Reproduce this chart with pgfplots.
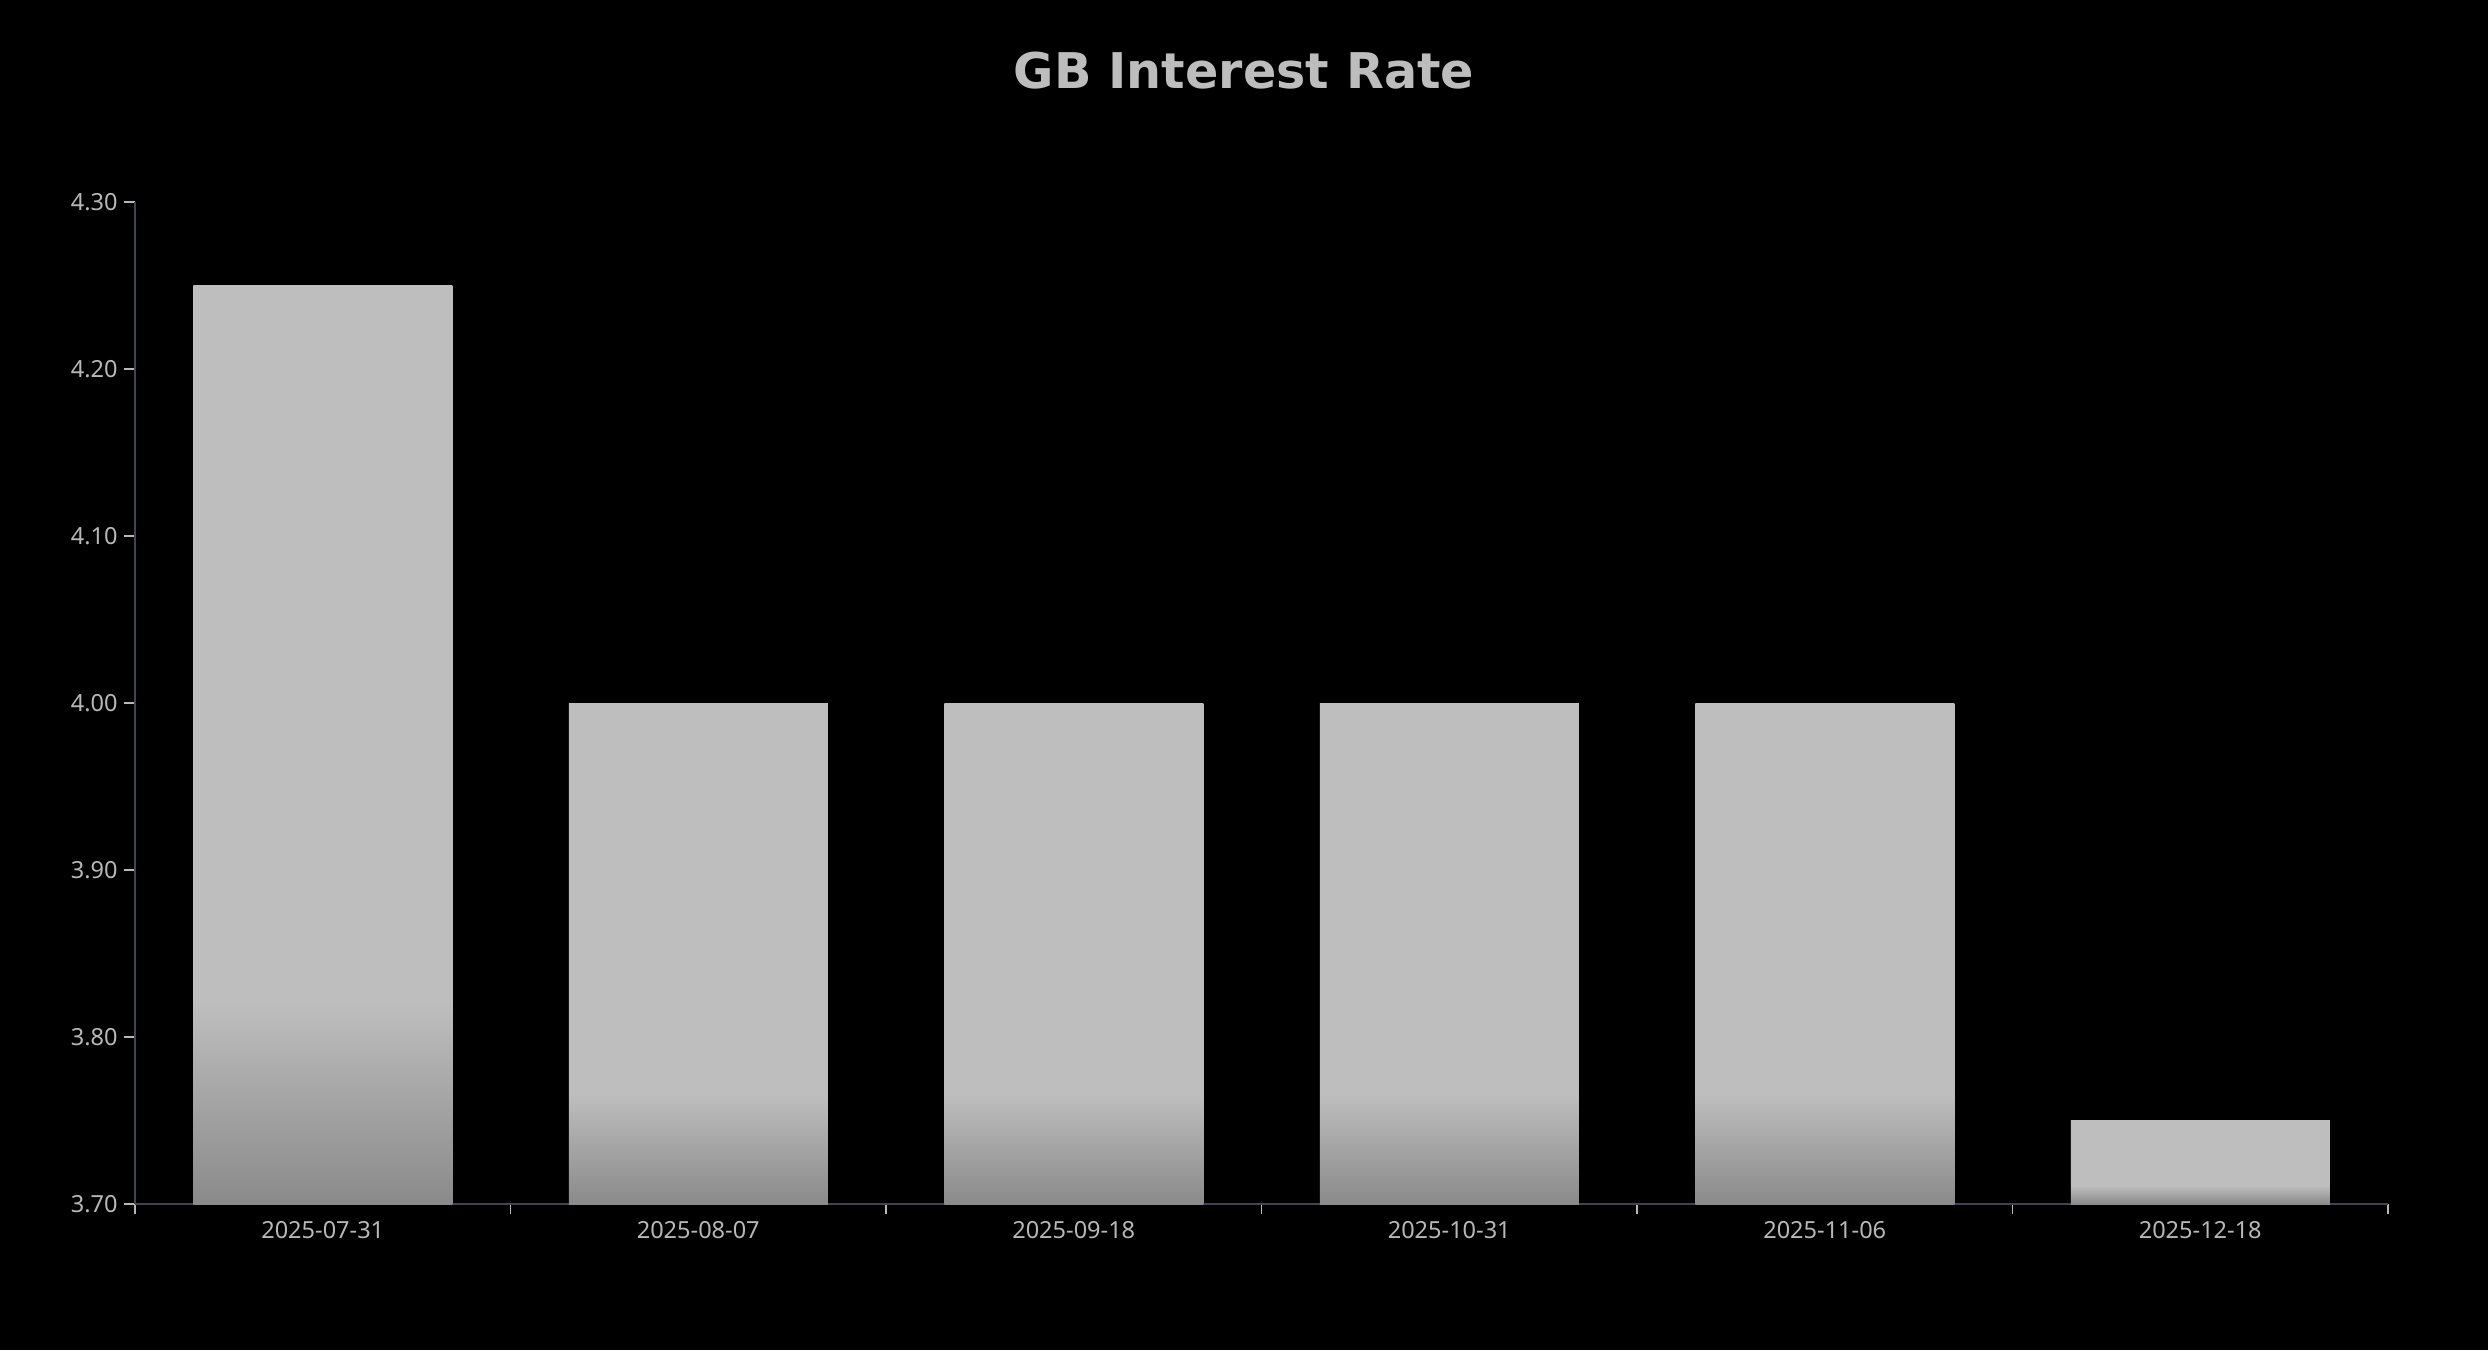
\documentclass[border=0pt]{standalone}
\usepackage{fontspec}
\setmainfont{Noto Sans}
\newfontfamily\titlefont{DejaVu Sans}
\usepackage{pgfplots}
\pgfplotsset{compat=1.18}

\definecolor{bargray}{HTML}{BEBEBE}
\definecolor{bardark}{HTML}{8A8A8A}
\definecolor{axisline}{HTML}{3D4553}
\definecolor{ticktext}{HTML}{B8B8B8}
\definecolor{titlegray}{HTML}{BDBDBD}

% darker band at the foot of every bar (bottom ~22% of its height)
\pgfdeclareverticalshading{barshade}{100bp}{color(0bp)=(bardark); color(25bp)=(bardark); color(36bp)=(bargray); color(100bp)=(bargray)}

\pgfplotsset{gbbar/.style={ybar, bar width=2.59cm, bar shift=0pt, draw=none, mark=none, shading=barshade}}

\begin{document}
\begin{tikzpicture}
\fill[black] (0,0) rectangle (24.88,13.5);
\path[use as bounding box] (0,0) rectangle (24.88,13.5);
\node[anchor=base, text=titlegray, inner sep=0pt] at (12.44,12.61)
  {\titlefont\fontsize{14}{16}\selectfont\bfseries GB Interest Rate};
\begin{axis}[
    at={(1.35cm,1.46cm)}, anchor=south west,
    scale only axis,
    width=22.53cm, height=10.02cm,
    xmin=-0.5, xmax=5.5,
    ymin=3.7, ymax=4.3,
    y coord trafo/.code={\pgfmathparse{#1-3.7}},
    axis lines=left,
    axis line style={-, draw=axisline, line width=0.75pt},
    tick align=outside,
    xtick={0,1,2,3,4,5},
    xticklabels={2025-07-31,2025-08-07,2025-09-18,2025-10-31,2025-11-06,2025-12-18},
    major x tick style={draw=none},
    minor xtick={-0.5,0.5,1.5,2.5,3.5,4.5,5.5},
    minor x tick style={draw=ticktext, line width=0.45pt},
    minor tick length=1.0mm,
    ytick={3.7,3.8,3.9,4.0,4.1,4.2,4.3},
    yticklabels={3.70,3.80,3.90,4.00,4.10,4.20,4.30},
    ytick style={draw=ticktext, line width=0.45pt},
    major tick length=1.1mm,
    tick label style={text=ticktext, font=\fontsize{6.7}{8}\selectfont},
    x tick label style={yshift=0.6mm},
    y tick label style={xshift=0.6mm},
    clip=false,
]
% one plot per bar so each bar gets its own shading
\addplot[gbbar] coordinates {(0, 4.25)};
\addplot[gbbar] coordinates {(1, 4.00)};
\addplot[gbbar] coordinates {(2, 4.00)};
\addplot[gbbar] coordinates {(3, 4.00)};
\addplot[gbbar] coordinates {(4, 4.00)};
\addplot[gbbar] coordinates {(5, 3.75)};
\end{axis}
\end{tikzpicture}
\end{document}
